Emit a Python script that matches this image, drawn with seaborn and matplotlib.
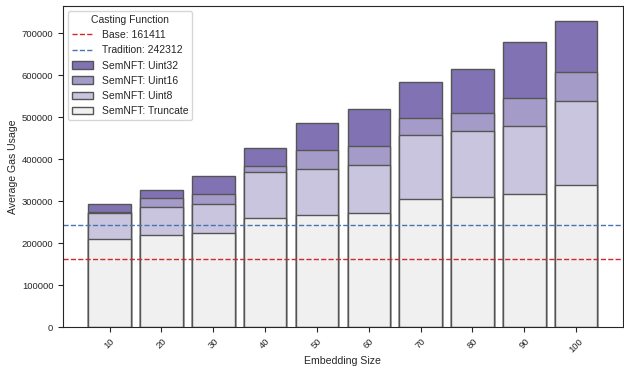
import pandas as pd
import seaborn as sns
import matplotlib.pyplot as plt

sns.set_style("ticks")
plt.rcParams['font.family'] = ['Liberation Sans', 'DejaVu Sans']

sizes = ["10", "20", "30", "40", "50", "60", "70", "80", "90", "100"]
uint32 = [293000, 326000, 360000, 427000, 486000, 519000, 583000, 616000, 679000, 729000]
uint16 = [273000, 308000, 316000, 383000, 422000, 431000, 497000, 509000, 546000, 608000]
uint8 = [272000, 285000, 294000, 369000, 377000, 386000, 458000, 467000, 478000, 538000]
truncate = [210000, 220000, 224000, 261000, 266000, 271000, 304000, 309000, 317000, 338000]

base_gas = 161411
tradition_gas = 242312

series = [
    ("SemNFT: Uint32", uint32, "#8172b3"),
    ("SemNFT: Uint16", uint16, "#a49bc8"),
    ("SemNFT: Uint8", uint8, "#cac5de"),
    ("SemNFT: Truncate", truncate, "#f0f0f0"),
]

fig, ax = plt.subplots(figsize=(6.24, 3.7), dpi=100)

for name, vals, col in series:
    df = pd.DataFrame({"size": sizes, "gas": vals})
    sns.barplot(data=df, x="size", y="gas", color=col, saturation=1,
                edgecolor="#555555", linewidth=1, label=name, ax=ax, width=0.82)

ax.axhline(base_gas, color="#d62728", linestyle="--", linewidth=1, label=f"Base: {base_gas}")
ax.axhline(tradition_gas, color="#4c72b0", linestyle="--", linewidth=1, label=f"Tradition: {tradition_gas}")

ax.set_xlabel("Embedding Size", fontsize=7.6)
ax.set_ylabel("Average Gas Usage", fontsize=7.6)
ax.xaxis.set_label_coords(0.5, -0.09)
ax.yaxis.set_label_coords(-0.08, 0.5)
ax.tick_params(axis="x", labelrotation=45, labelsize=6.8, length=3.5)
ax.tick_params(axis="y", labelsize=6.8, length=3.5)
ax.set_xlim(-0.9, 9.9)
ax.set_ylim(0, 766000)

handles, labels = ax.get_legend_handles_labels()
order = [labels.index(f"Base: {base_gas}"), labels.index(f"Tradition: {tradition_gas}")] + \
        [labels.index(s[0]) for s in series]
ax.legend([handles[i] for i in order], [labels[i] for i in order],
          title="Casting Function", loc="upper left", fontsize=7.5, title_fontsize=7.5)

fig.subplots_adjust(left=0.101, right=0.998, top=0.985, bottom=0.116)
plt.savefig("out.png", dpi=100)
